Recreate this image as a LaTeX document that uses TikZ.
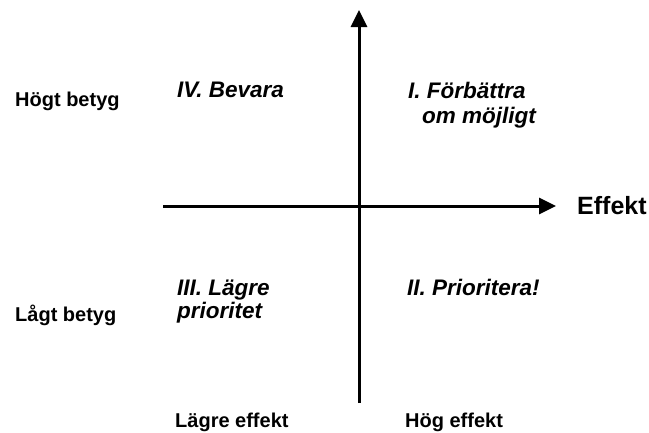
\documentclass[tikz,border=0pt]{standalone}
\usepackage{fontspec}
\setmainfont{Liberation Sans}
\usepackage{tikz}
\usetikzlibrary{arrows.meta}
\def\axx{359}
\def\axy{206}

\begin{document}
\begin{tikzpicture}[x=1pt, y=-1pt,
		axis/.style={line width=3pt, -{Triangle[length=17pt,width=16pt]}},
		side/.style={anchor=base west, inner sep=0pt, font=\fontsize{20}{24}\selectfont\bfseries},
		quad/.style={anchor=base west, inner sep=0pt, font=\fontsize{22.5}{26}\selectfont\bfseries\itshape}]
		\useasboundingbox (0,0) rectangle (649,432);
		% axes
		\coordinate (yb) at (\axx,403);
		\coordinate (yt) at (\axx,10);
		\coordinate (xl) at (163,\axy);
		\coordinate (xr) at (556,\axy);
		\draw[axis] (yb) -- (yt);
		\draw[axis] (xl) -- (xr);
		\node[anchor=west, inner sep=0pt, font=\fontsize{25}{30}\selectfont\bfseries] (eff) at (577,\axy) {Effekt};
		% side labels
		\node[side] (hb) at (15,106) {Högt betyg};
		\node[side] (lb) at (15,321) {Lågt betyg};
		\node[side] (le) at (175,427) {Lägre effekt};
		\node[side] (he) at (405,427) {Hög effekt};
		% quadrants
		\node[quad] (q4) at (177,97) {IV. Bevara};
		\node[quad] (q1a) at (408,98) {I. Förbättra};
		\node[quad] (q1b) at (422,123) {om möjligt};
		\node[quad] (q3a) at (177,295) {III. Lägre};
		\node[quad] (q3b) at (177,318) {prioritet};
		\node[quad] (q2) at (407,295) {II. Prioritera!};
	\end{tikzpicture}
\end{document}
